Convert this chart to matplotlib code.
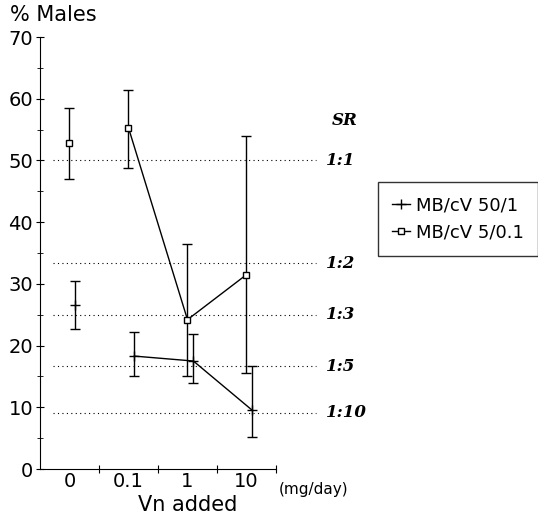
import matplotlib.pyplot as plt
import numpy as np

doses = ['0', '0.1', '1', '10']

# MB/cV 50/1  (plus markers)
plus_y = [26.5, 18.3, 17.5, 9.5]
plus_lo = [22.7, 15.0, 14.0, 5.2]
plus_hi = [30.5, 22.2, 21.8, 16.7]

# MB/cV 5/0.1  (square markers)
sq_y = [52.8, 55.3, 24.2, 31.5]
sq_lo = [47.0, 48.8, 15.0, 15.5]
sq_hi = [58.5, 61.5, 36.5, 54.0]

# sex ratio reference lines
sr_vals = [50.0, 100 / 3, 25.0, 100 / 6, 100 / 11]
sr_labels = ['1:1', '1:2', '1:3', '1:5', '1:10']

fig = plt.figure(figsize=(5.38, 5.15), dpi=100)
ax = fig.add_axes([0.0743, 0.0893, 0.4387, 0.8387])

pos = np.arange(len(doses)) + 0.5

for v, lab in zip(sr_vals, sr_labels):
    ax.plot([0.22, 4.68], [v, v], ls=(0, (1, 3)), color='k', lw=0.8, clip_on=False)
    ax.text(4.85, v, lab, fontsize=12, fontstyle='italic', fontweight='bold',
            family='DejaVu Serif', va='center', ha='left')
ax.text(4.95, 56.5, 'SR', fontsize=12, fontstyle='italic', fontweight='bold',
        family='DejaVu Serif', va='center', ha='left')

px = pos + 0.1
py = np.array(plus_y)
ax.errorbar(px, py, yerr=[py - np.array(plus_lo), np.array(plus_hi) - py],
            fmt='none', ecolor='k', elinewidth=1, capsize=3.5, capthick=1)
ax.plot(px[1:], py[1:], color='k', lw=1)
ax.plot(px, py, ls='none', marker='+', ms=7, mew=1, color='k')
l1, = ax.plot([], [], color='k', lw=1, marker='+', ms=7, mew=1)

sx = pos
sy = np.array(sq_y)
ax.errorbar(sx, sy, yerr=[sy - np.array(sq_lo), np.array(sq_hi) - sy],
            fmt='none', ecolor='k', elinewidth=1, capsize=3.5, capthick=1)
ax.plot(sx[1:], sy[1:], color='k', lw=1)
ax.plot(sx, sy, ls='none', marker='s', ms=5, mew=1, mfc='white', color='k')
l2, = ax.plot([], [], color='k', lw=1, marker='s', ms=5, mew=1, mfc='white')

ax.set_xlim(0, 4)
ax.set_ylim(0, 70)
ax.spines['top'].set_visible(False)
ax.spines['right'].set_visible(False)
ax.set_yticks(np.arange(0, 71, 10))
ax.set_yticks(np.arange(5, 70, 10), minor=True)
ax.set_xticks([1, 2, 3, 4])
ax.set_xticklabels([])
ax.tick_params(axis='y', direction='inout', length=6, labelsize=14, pad=2)
ax.tick_params(axis='y', which='minor', direction='inout', length=4)
ax.tick_params(axis='x', direction='inout', length=6)
for p, d in zip(pos, doses):
    ax.text(p, -0.5, d, ha='center', va='top', fontsize=14)

ax.text(2.5, -6.8, 'Vn added', ha='center', va='baseline', fontsize=15)
ax.text(4.05, -3.3, '(mg/day)', ha='left', va='center', fontsize=11)
fig.text(0.018, 0.99, '% Males', ha='left', va='top', fontsize=15)

fig.legend([l1, l2], ['MB/cV 50/1', 'MB/cV 5/0.1'], loc='upper right',
           bbox_to_anchor=(1.0, 0.647), fontsize=13, frameon=True, fancybox=False,
           edgecolor='k', handlelength=1.0, handletextpad=0.3, borderpad=0.8,
           borderaxespad=0.0)

fig.savefig('out.png', dpi=100)
